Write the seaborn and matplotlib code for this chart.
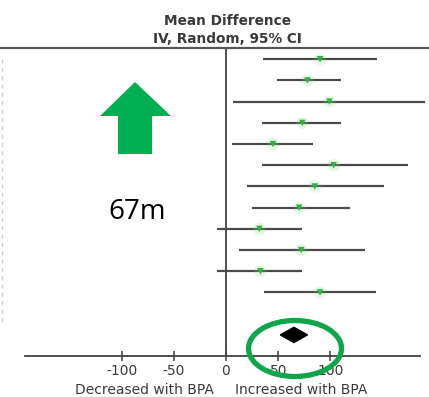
import matplotlib
matplotlib.use("Agg")
import matplotlib.pyplot as plt
import seaborn as sns
import pandas as pd
from matplotlib.patches import Polygon, Ellipse

# ---- data ----
study_row = [0, 1, 2, 3, 4, 5, 6, 7, 8, 9, 10, 11]
mean_diff = [90, 78, 99, 73, 45, 103, 85, 70, 32, 72, 33, 90]
ci_low = [35, 49, 7, 34, 6, 34, 20, 25, -9, 12, -9, 36]
ci_high = [145, 110, 190, 110, 83, 174, 151, 119, 73, 133, 73, 144]
summary_row = 13
summary_est = 65
summary_low = 52
summary_high = 78
tick_values = [-100, -50, 0, 50, 100]
tick_labels = ["-100", "-50", "0", "50", "100"]
callout_text = "67m"

sns.set_theme(style="white")
plt.rcParams["font.family"] = ["DejaVu Sans"]

W, H = 429, 397
fig = plt.figure(figsize=(W / 100, H / 100), dpi=100)
ax = fig.add_axes([0, 0, 1, 1])

df = pd.DataFrame({"row": study_row, "est": mean_diff, "lo": ci_low, "hi": ci_high})

ax.hlines(df["row"], df["lo"], df["hi"], color="#4a4a4a", lw=1.6, zorder=2)
sns.scatterplot(data=df, x="est", y="row", marker="o", s=80, color="#7ee07e",
                alpha=0.2, edgecolor="none", ax=ax, zorder=3, legend=False)
sns.scatterplot(data=df, x="est", y="row", marker="v", s=22, color="#2fb33f",
                edgecolor="none", ax=ax, zorder=4, legend=False)

# summary diamond
h = 0.36
ax.fill([summary_low, summary_est, summary_high, summary_est],
        [summary_row, summary_row - h, summary_row, summary_row + h],
        color="black", zorder=4)

# zero line and top rule
ax.vlines(0, -0.53, 14, color="#404040", lw=1.3, zorder=1)
ax.axhline(-0.53, color="#555555", lw=1.6)

# axis
for s in ["top", "left", "right"]:
    ax.spines[s].set_visible(False)
ax.spines["bottom"].set_position(("data", 14))
ax.spines["bottom"].set_bounds(-192, 186)
ax.spines["bottom"].set_color("#404040")
ax.spines["bottom"].set_linewidth(1.3)
ax.set_xticks(tick_values)
ax.set_xticklabels(tick_labels)
ax.tick_params(axis="x", direction="inout", length=7, width=1.1, colors="#404040",
               labelsize=10, pad=2.5, labelcolor="#3a3a3a", bottom=True)
ax.set_yticks([])
ax.set_xlim(-216.3, 194.3)
ax.set_ylim(15.93, -2.797)
ax.set_xlabel("")
ax.set_ylabel("")

# headers
ax.text(1, -1.8, "Mean Difference", ha="center", va="center", fontsize=9.8,
        weight="bold", color="#3a3a3a")
ax.text(1, -0.95, "IV, Random, 95% CI", ha="center", va="center", fontsize=9.8,
        weight="bold", color="#3a3a3a")
ax.text(-78, 15.58, "Decreased with BPA", ha="center", va="center", fontsize=10,
        color="#3a3a3a")
ax.text(72, 15.58, "Increased with BPA", ha="center", va="center", fontsize=10,
        color="#3a3a3a")

# faint left edge dashes
ax.vlines(-214.5, 0, 12.5, color="#cccccc", lw=1, linestyles=(0, (3, 3)))

# green arrow (figure pixel coords -> fraction)
arrow_px = [(135, 82), (171, 116), (152, 116), (152, 154), (118, 154), (118, 116), (100, 116)]
arrow = Polygon([(x / W, 1 - y / H) for x, y in arrow_px], closed=True,
                transform=fig.transFigure, facecolor="#00B050", edgecolor="none")
fig.patches.append(arrow)

fig.text(137 / W, 1 - 212 / H, callout_text, ha="center", va="center",
         fontsize=20, family=["Open Sans", "DejaVu Sans"], color="black")

ell = Ellipse((295 / W, 1 - 348.5 / H), 93 / W, 56 / H, transform=fig.transFigure,
              fill=False, edgecolor="#0EA64B", lw=3.8, zorder=10)
fig.patches.append(ell)

fig.savefig("out.png", dpi=100)
